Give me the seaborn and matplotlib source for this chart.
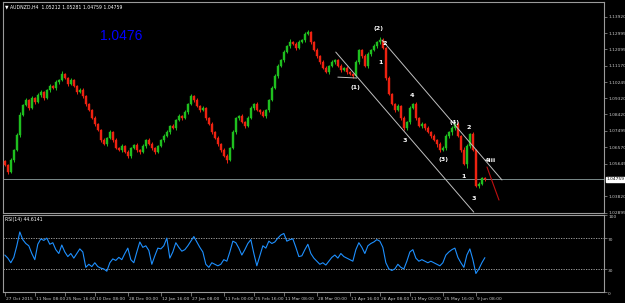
import matplotlib
matplotlib.use("Agg")
import matplotlib.pyplot as plt
import matplotlib.transforms as mtransforms
import numpy as np
import pandas as pd
import seaborn as sns

# ---------------- data ----------------
symbol_title = "\u25bc AUDNZD,H4  1.05212 1.05281 1.04759 1.04759"
big_price_text = "1.0476"
rsi_title = "RSI(14) 44.6141"
last_price = 1.04759
first_open = 1.0580

closes = [
    1.0557, 1.0518, 1.0585, 1.0642, 1.0726, 1.0839, 1.0895, 1.0923, 1.0878, 1.0934,
    1.0912, 1.0951, 1.0968, 1.0934, 1.0979, 1.1002, 1.0991, 1.1024, 1.1036, 1.1069,
    1.1047, 1.1013, 1.1036, 1.1002, 1.0968, 1.0979, 1.0946, 1.0900, 1.0867, 1.0822,
    1.0788, 1.0754, 1.0698, 1.0675, 1.0709, 1.0743, 1.0698, 1.0653, 1.0642, 1.0664,
    1.0630, 1.0608, 1.0653, 1.0670, 1.0642, 1.0630, 1.0664, 1.0698, 1.0675, 1.0653,
    1.0630, 1.0664, 1.0698, 1.0720, 1.0743, 1.0777, 1.0765, 1.0810, 1.0833, 1.0822,
    1.0855, 1.0900, 1.0946, 1.0923, 1.0889, 1.0867, 1.0878, 1.0822, 1.0788, 1.0743,
    1.0709, 1.0675, 1.0642, 1.0608, 1.0585, 1.0653, 1.0743, 1.0822, 1.0833, 1.0799,
    1.0777, 1.0822, 1.0878, 1.0900, 1.0867, 1.0855, 1.0833, 1.0867, 1.0923, 1.0991,
    1.1058, 1.1114, 1.1148, 1.1193, 1.1227, 1.1250, 1.1238, 1.1216, 1.1250, 1.1261,
    1.1295, 1.1306, 1.1250, 1.1205, 1.1171, 1.1137, 1.1103, 1.1081, 1.1114, 1.1137,
    1.1148, 1.1114, 1.1092, 1.1103, 1.1081, 1.1069, 1.1058, 1.1137, 1.1205, 1.1171,
    1.1114, 1.1182, 1.1205, 1.1227, 1.1250, 1.1261, 1.1216, 1.1047, 1.0957, 1.0900,
    1.0867, 1.0889, 1.0822, 1.0765, 1.0799, 1.0878, 1.0900, 1.0822, 1.0777, 1.0788,
    1.0765, 1.0743, 1.0720, 1.0698, 1.0675, 1.0642, 1.0653, 1.0720, 1.0743, 1.0765,
    1.0788, 1.0720, 1.0642, 1.0563, 1.0664, 1.0732, 1.0642, 1.0439, 1.0450, 1.0484,
    1.0476,
]

up_wick_pips = [
    8, 5, 12, 6, 9, 14, 7, 10, 5, 11, 6, 9, 13, 4, 8, 10, 7, 12, 5, 15,
    9, 6, 11, 8, 4, 10, 13, 7, 9, 5, 12, 6, 8, 11, 4, 10, 7, 14, 6, 9,
    5, 12, 8, 6, 10, 7, 13, 5, 9, 11, 6, 8, 4, 12, 10, 7, 9, 5, 11, 8,
    14, 6, 10, 7, 12, 5, 9, 8, 4, 11, 7, 13, 6, 9, 10, 5, 12, 8, 7, 11,
    6, 9, 14, 5, 10, 8, 12, 6, 7, 11, 9, 13, 5, 10, 8, 15, 6, 12, 9, 7,
    11, 14, 8, 6, 10, 5, 12, 9, 7, 11, 6, 8, 13, 5, 10, 7, 9, 12, 6, 8,
    14, 10, 7, 11, 6, 16, 12, 8, 10, 6, 9, 13, 7, 11, 5, 12, 8, 10, 6, 9,
    7, 12, 8, 10, 6, 11, 14, 9, 7, 10, 8, 12, 6, 18, 9, 7, 11, 8, 10, 6,
    8,
]

down_wick_pips = [
    7, 12, 5, 9, 6, 10, 8, 4, 11, 7, 9, 5, 12, 8, 6, 10, 4, 9, 13, 7,
    5, 10, 8, 6, 12, 7, 9, 11, 5, 8, 10, 6, 13, 7, 9, 5, 11, 8, 6, 12,
    7, 9, 14, 6, 10, 8, 5, 12, 7, 9, 11, 6, 8, 10, 5, 13, 7, 9, 6, 11,
    8, 12, 5, 10, 7, 9, 6, 14, 8, 11, 5, 9, 12, 7, 16, 8, 6, 10, 9, 7,
    12, 5, 8, 11, 6, 10, 7, 9, 13, 5, 8, 10, 6, 12, 7, 9, 5, 11, 8, 6,
    10, 7, 12, 5, 9, 11, 6, 8, 10, 7, 13, 5, 9, 8, 11, 6, 10, 7, 9, 12,
    6, 8, 11, 7, 10, 9, 5, 12, 8, 6, 11, 7, 9, 10, 8, 12, 6, 9, 7, 11,
    10, 8, 12, 6, 14, 9, 7, 11, 8, 15, 10, 7, 9, 8, 20, 12, 8, 6, 9, 8,
    7,
]

rsi_values = [
    48, 44, 38, 45, 60, 78, 68, 63, 60, 50,
    42, 62, 69, 67, 70, 62, 64, 55, 50, 61,
    52, 46, 50, 44, 50, 56, 52, 32, 36, 33,
    38, 33, 31, 30, 27, 38, 43, 41, 45, 42,
    50, 57, 42, 38, 52, 65, 58, 60, 54, 36,
    47, 57, 56, 60, 70, 44, 52, 64, 58, 53,
    55, 60, 66, 72, 65, 58, 52, 36, 32, 38,
    36, 34, 36, 42, 40, 52, 66, 64, 57, 48,
    55, 63, 68, 50, 34, 47, 60, 57, 66, 63,
    65, 70, 74, 76, 66, 68, 69, 58, 46, 47,
    55, 62, 50, 44, 40, 36, 38, 35, 40, 45,
    48, 44, 50, 46, 44, 42, 40, 55, 64, 58,
    50, 60, 63, 65, 68, 66, 58, 38, 30, 28,
    30, 36, 32, 30, 40, 52, 55, 44, 40, 42,
    40, 38, 40, 38, 36, 34, 38, 48, 52, 55,
    57, 45, 38, 32, 48, 56, 42, 24, 30, 38,
    44.6141,
]

price_ticks = [1.13920, 1.12995, 1.12095, 1.11170, 1.10245, 1.09320, 1.08420,
               1.07495, 1.06570, 1.05645, 1.03820, 1.02895]
rsi_ticks = [0, 30, 70, 100]
rsi_levels = [30, 70]

date_tick_bars = [0, 10, 20, 30, 41, 52, 62, 73, 83, 93, 104, 115, 125, 135, 146, 157]
date_labels = ["27 Oct 2015", "11 Nov 08:00", "25 Nov 16:00", "10 Dec 08:00",
               "28 Dec 00:00", "12 Jan 16:00", "27 Jan 08:00", "11 Feb 00:00",
               "25 Feb 16:00", "11 Mar 08:00", "28 Mar 00:00", "11 Apr 16:00",
               "26 Apr 08:00", "11 May 00:00", "25 May 16:00", "9 Jun 08:00"]

# trend / channel lines (bar index, price)
upper_channel_bars = [125.7, 165.7]
upper_channel_prices = [1.1261, 1.0473]
lower_channel_bars = [110.3, 156.3]
lower_channel_prices = [1.1193, 1.0292]
flat_line_bars = [111.0, 117.3]
flat_line_prices = [1.1052, 1.1047]
projection_bars = [160.7, 164.7]
projection_prices = [1.0546, 1.0360]

wave_labels = ["(2)", "2", "1", "(1)", "4", "3", "(4)", "(3)", "2", "1", "4iii", "3"]
wave_bars = [124.7, 126.7, 125.3, 116.7, 135.7, 133.3, 150.0, 146.3, 154.7, 153.0, 161.7, 156.3]
wave_prices = [1.1323, 1.1244, 1.1137, 1.0991, 1.0946, 1.0698, 1.0799, 1.0591, 1.0771,
               1.0495, 1.0580, 1.0371]

# ---------------- build table ----------------
n = len(closes)
bar_index = np.arange(n)
opens = [first_open] + closes[:-1]
df = pd.DataFrame({"bar": bar_index, "open": opens, "close": closes,
                   "up": up_wick_pips, "down": down_wick_pips, "rsi": rsi_values})
df["high"] = df[["open", "close"]].max(axis=1) + df["up"] * 0.0001
df["low"] = df[["open", "close"]].min(axis=1) - df["down"] * 0.0001
df["bull"] = df["close"] >= df["open"]

# ---------------- style ----------------
sns.set_theme(style="dark")
plt.rcParams["font.family"] = ["DejaVu Sans"]
bg = "black"
axis_col = "#9a9a9a"
text_col = "#c8c8c8"
green = "#1fbf1f"
red = "#ee2211"

fig = plt.figure(figsize=(6.25, 3.03), dpi=100, facecolor=bg)
W, H = 625.0, 303.0
ax = fig.add_axes([3 / W, (H - 213) / H, 601 / W, 211 / H])
ax2 = fig.add_axes([3 / W, (H - 292) / H, 601 / W, 77 / H])

for a in (ax, ax2):
    a.set_facecolor(bg)
    a.grid(False)
    for s in a.spines.values():
        s.set_color(axis_col)
        s.set_linewidth(0.8)

xmin, xmax = -0.6, 199.7

# ---------------- candles ----------------
cols = np.where(df["bull"], green, red)
ax.vlines(df["bar"], df["low"], df["high"], colors=cols, linewidth=0.7, zorder=2)
body_bottom = df[["open", "close"]].min(axis=1)
body_h = (df["close"] - df["open"]).abs().clip(lower=0.00025)
ax.bar(df["bar"], body_h, bottom=body_bottom, width=0.7, color=cols,
       edgecolor=cols, linewidth=0.3, zorder=3)

# last price line
ax.axhline(last_price, color="#7a8a8a", linewidth=0.7, zorder=1)

# channel lines
ax.plot(upper_channel_bars, upper_channel_prices, color="#c0c0c0", linewidth=0.7, zorder=4)
ax.plot(lower_channel_bars, lower_channel_prices, color="#c0c0c0", linewidth=0.7, zorder=4)
ax.plot(flat_line_bars, flat_line_prices, color="#c0c0c0", linewidth=0.7, zorder=4)
ax.plot(projection_bars, projection_prices, color="#c01010", linewidth=0.8, zorder=4)

for lab, b, p in zip(wave_labels, wave_bars, wave_prices):
    ax.text(b, p, lab, color="white", fontsize=4.6, fontweight="bold",
            ha="center", va="center", zorder=5)

ax.set_xlim(xmin, xmax)
ax.set_ylim(1.0287, 1.1475)
ax.yaxis.tick_right()
ax.set_yticks(price_ticks)
ax.set_yticklabels([f"{v:.5f}" for v in price_ticks])
ax.tick_params(axis="y", which="both", colors=axis_col, labelcolor=text_col,
               labelsize=3.2, length=2, width=0.5, pad=1, direction="out", right=True, left=False)
ax.set_xticks([])
ax.set_xlabel("")
ax.set_ylabel("")

# current price box
trans = mtransforms.blended_transform_factory(ax.transAxes, ax.transData)
ax.text(1.004, last_price, f"{last_price:.5f}", transform=trans, fontsize=3.2,
        color="black", ha="left", va="center",
        bbox=dict(boxstyle="square,pad=0.15", facecolor="white", edgecolor="white"))

# titles
ax.text(0.004, 0.988, symbol_title, transform=ax.transAxes, color="white",
        fontsize=3.3, ha="left", va="top")
ax.text(97 / 601, 1 - 38 / 211, big_price_text, transform=ax.transAxes,
        color="#0000ff", fontsize=10, family="Liberation Sans", ha="left", va="baseline")

# ---------------- RSI ----------------
sns.lineplot(x=df["bar"], y=df["rsi"], ax=ax2, color="#1e90ff", linewidth=0.8)
for lvl in rsi_levels:
    ax2.axhline(lvl, color="#b0b0b0", linewidth=0.6, linestyle=(0, (1.5, 1.5)), zorder=1)
ax2.set_xlim(xmin, xmax)
ax2.set_ylim(0, 100)
ax2.yaxis.tick_right()
ax2.set_yticks(rsi_ticks)
ax2.set_yticklabels([str(v) for v in rsi_ticks])
ax2.tick_params(axis="y", colors=axis_col, labelcolor=text_col, labelsize=3.2,
                length=2, width=0.5, pad=1, right=True, left=False)
for lbl in ax2.get_yticklabels():
    lbl.set_va("top")
ax2.set_xticks(date_tick_bars)
ax2.set_xticklabels(date_labels)
ax2.tick_params(axis="x", colors=axis_col, labelcolor=text_col, labelsize=3.2,
                length=3, width=0.5, pad=0.5, bottom=True, direction="out")
offset = mtransforms.ScaledTranslation(1.5 / 100, 0, fig.dpi_scale_trans)
for lbl in ax2.get_xticklabels():
    lbl.set_ha("left")
    lbl.set_transform(lbl.get_transform() + offset)
ax2.set_xlabel("")
ax2.set_ylabel("")
ax2.text(0.003, 0.97, rsi_title, transform=ax2.transAxes, color="white",
         fontsize=3.3, ha="left", va="top")

fig.savefig("out.png", dpi=100, facecolor=bg)
